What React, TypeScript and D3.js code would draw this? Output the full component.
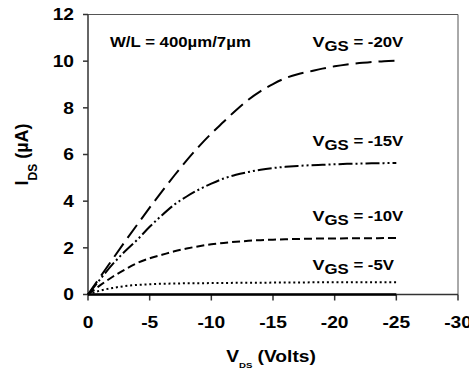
import React from "react";
import * as d3 from "d3";

// drain voltage (V) and drain current (uA)
const vds = [0, -1, -2, -3, -4, -5, -6, -7, -8, -9, -10, -11, -12, -13, -14, -15, -16, -17, -18, -19, -20, -21, -22, -23, -24, -25];
const iVgs20 = [0, 0.76, 1.52, 2.27, 3.0, 3.72, 4.42, 5.1, 5.75, 6.35, 6.9, 7.4, 7.9, 8.35, 8.72, 9.02, 9.27, 9.44, 9.56, 9.68, 9.78, 9.86, 9.92, 9.96, 10.0, 10.02];
const iVgs15 = [0, 0.66, 1.3, 1.85, 2.35, 2.9, 3.4, 3.85, 4.2, 4.5, 4.75, 4.97, 5.13, 5.25, 5.35, 5.42, 5.47, 5.51, 5.54, 5.56, 5.58, 5.6, 5.61, 5.62, 5.63, 5.64];
const iVgs10 = [0, 0.4, 0.76, 1.07, 1.35, 1.55, 1.7, 1.85, 1.97, 2.07, 2.15, 2.21, 2.26, 2.3, 2.33, 2.35, 2.37, 2.38, 2.39, 2.4, 2.4, 2.41, 2.41, 2.41, 2.42, 2.42];
const iVgs5 = [0, 0.17, 0.28, 0.36, 0.41, 0.44, 0.46, 0.47, 0.48, 0.48, 0.49, 0.49, 0.5, 0.5, 0.5, 0.51, 0.51, 0.51, 0.52, 0.52, 0.52, 0.52, 0.53, 0.53, 0.53, 0.53];
const iOff = [0, 0, 0, 0, 0, 0, 0, 0, 0, 0, 0, 0, 0, 0, 0, 0, 0, 0, 0, 0, 0, 0, 0, 0, 0, 0];

const gateLabels = ["-20V", "-15V", "-10V", "-5V"];
const xTicks = [0, -5, -10, -15, -20, -25, -30];
const yTicks = [0, 2, 4, 6, 8, 10, 12];

const width = 469;
const height = 369;
const margins = { top: 14.5, right: 11, bottom: 74, left: 88 };
const font = "'Liberation Sans', Arial, sans-serif";
const SX = 1.2; // the original picture is a bit stretched sideways

// stretched bold text, anchored at (x, y)
const Txt = ({ x, y, size, anchor = "start", children }: any) => (
  <text
    transform={`translate(${x},${y}) scale(${SX},1)`}
    fontSize={size}
    fontFamily={font}
    fontWeight="bold"
    textAnchor={anchor}
    fill="#000"
  >
    {children}
  </text>
);

export default function App() {
  const xScale = d3.scaleLinear().domain([0, -30]).range([margins.left, width - margins.right]);
  const yScale = d3.scaleLinear().domain([0, 12]).range([height - margins.bottom - 0.5, margins.top]);
  const x0 = xScale(0);
  const x1 = xScale(-30);
  const yB = yScale(0);
  const yT = yScale(12);

  const line = d3
    .line<number>()
    .x((_, i) => xScale(vds[i]))
    .y((d) => yScale(d))
    .curve(d3.curveMonotoneX);

  const series = [
    { values: iVgs20, dash: "16,7", label: gateLabels[0], at: 10.6 },
    { values: iVgs15, dash: "14,3,2,3,2,3", label: gateLabels[1], at: 6.35 },
    { values: iVgs10, dash: "8,4", label: gateLabels[2], at: 3.15 },
    { values: iVgs5, dash: "2,2.8", label: gateLabels[3], at: 1.03 },
  ];

  return (
    <svg width={width} height={height} style={{ position: "absolute", left: 0, top: 0, background: "#fff" }}>
      {/* frame */}
      <line x1={x0} x2={x1} y1={yT} y2={yT} stroke="#555" strokeWidth={1} />
      <line x1={x1} x2={x1} y1={yT} y2={yB} stroke="#555" strokeWidth={1} />
      <line x1={x0} x2={x1} y1={yB} y2={yB} stroke="#333" strokeWidth={1.5} />
      <line x1={x0} x2={x0} y1={yT} y2={yB} stroke="#333" strokeWidth={1.5} />

      {/* y ticks */}
      {yTicks.map((t) => (
        <g key={"y" + t}>
          <line x1={x0 - 5} x2={x0} y1={yScale(t)} y2={yScale(t)} stroke="#333" strokeWidth={1.5} />
          <Txt x={x0 - 14} y={yScale(t) + 5.7} size={16} anchor="end">
            {t}
          </Txt>
        </g>
      ))}

      {/* x ticks */}
      {xTicks.map((t) => (
        <g key={"x" + t}>
          <line x1={xScale(t)} x2={xScale(t)} y1={yB} y2={yB + 6} stroke="#333" strokeWidth={1.5} />
          <Txt x={xScale(t)} y={yB + 33} size={16} anchor="middle">
            {t}
          </Txt>
        </g>
      ))}

      {/* off-state current along the axis */}
      <path d={line(iOff) || ""} fill="none" stroke="#000" strokeWidth={2.5} />

      {/* curves */}
      {series.map((s) => (
        <path
          key={s.label}
          d={line(s.values) || ""}
          fill="none"
          stroke="#000"
          strokeWidth={2}
          strokeDasharray={s.dash}
        />
      ))}

      {/* curve labels */}
      {series.map((s) => (
        <Txt key={"l" + s.label} x={xScale(-18.2)} y={yScale(s.at)} size={15}>
          V
          <tspan fontSize={14} dy={3.5}>GS</tspan>
          <tspan fontSize={14} dy={-3.5}>{" = " + s.label}</tspan>
        </Txt>
      ))}

      <Txt x={110} y={46.5} size={14}>
        W/L = 400µm/7µm
      </Txt>

      {/* axis titles */}
      <Txt x={(x0 + x1) / 2 - 2} y={361.5} size={16} anchor="middle">
        V
        <tspan fontSize={8} dy={6}>DS</tspan>
        <tspan dy={-6}> (Volts)</tspan>
      </Txt>
      <text
        transform={`translate(28,154.5) rotate(-90)`}
        fontSize={18}
        fontFamily={font}
        fontWeight="bold"
        textAnchor="middle"
      >
        I
        <tspan fontSize={12} dy={9}>DS</tspan>
        <tspan dy={-9}> (µA)</tspan>
      </text>
    </svg>
  );
}
